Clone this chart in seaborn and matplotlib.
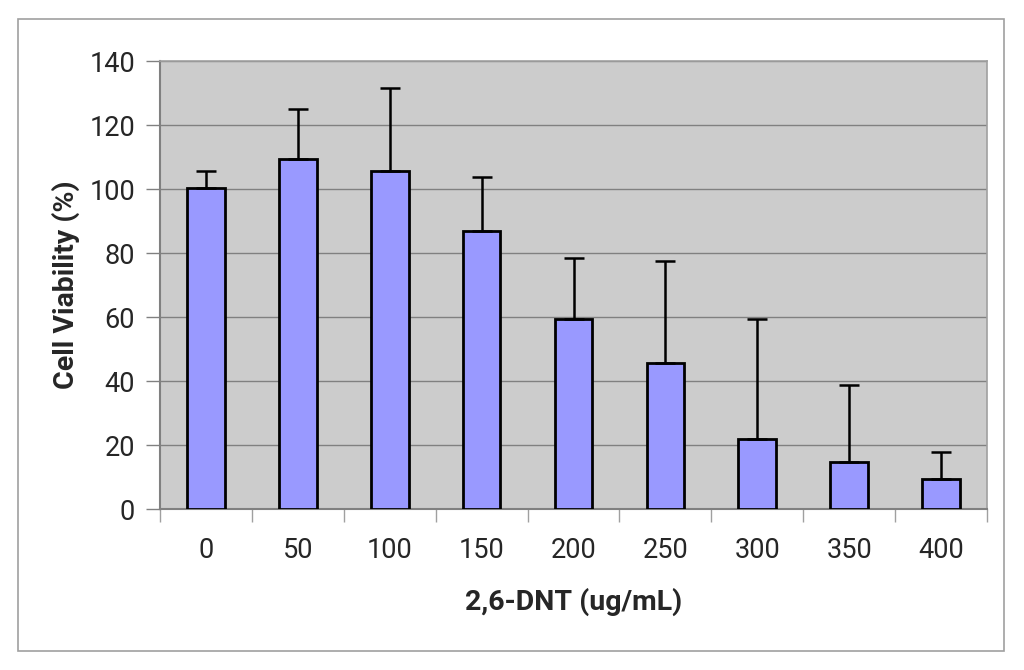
import matplotlib
matplotlib.use("Agg")
import matplotlib.pyplot as plt
import pandas as pd
import numpy as np
import seaborn as sns
from matplotlib.patches import Rectangle

# data
doses = ["0", "50", "100", "150", "200", "250", "300", "350", "400"]
viability = [100.3, 109.4, 105.6, 87.0, 59.4, 45.5, 21.9, 14.8, 9.4]
sd_upper = [5.4, 15.6, 26.0, 16.8, 19.1, 31.9, 37.5, 24.1, 8.4]

df = pd.DataFrame({"dose": doses, "viability": viability, "sd": sd_upper})

sns.set_theme(style="white")
plt.rcParams["font.family"] = ["Roboto", "DejaVu Sans"]

fig = plt.figure(figsize=(10.24, 6.7), dpi=100)
ax = fig.add_axes([160/1024, 161/670, 827/1024, 448/670])
ax.set_facecolor("#cccccc")

# outer chart border
fig.patches.append(Rectangle((18/1024, 19/670), 986/1024, 632/670,
                             transform=fig.transFigure, fill=False,
                             edgecolor="#a0a0a0", linewidth=1.2))

sns.barplot(data=df, x="dose", y="viability", color="#9999ff", width=0.41,
            saturation=1, edgecolor="black", linewidth=2, errorbar=None,
            ax=ax, zorder=3)
ax.errorbar(np.arange(len(doses)), df["viability"],
            yerr=[np.zeros(len(doses)), df["sd"]], fmt="none",
            ecolor="black", elinewidth=1.8, capsize=7, capthick=1.8, zorder=4)

ax.set_ylim(0, 140)
ax.set_xlim(-0.5, len(doses) - 0.5)
ax.set_yticks(range(0, 141, 20))
ax.yaxis.grid(True, color="#808080", linewidth=1.0)
ax.set_axisbelow(True)

# ticks: y outward, x ticks at category boundaries
ax.tick_params(axis="y", which="major", direction="out", length=10, width=1,
               color="#808080", labelsize=19.5, pad=8, left=True)
ax.tick_params(axis="x", which="major", length=0, labelsize=19.5, pad=20)
ax.set_xticks(np.arange(-0.5, len(doses)), minor=True)
ax.tick_params(axis="x", which="minor", direction="out", length=9, width=1,
               color="#a0a0a0", bottom=True)

for side in ["left", "bottom"]:
    ax.spines[side].set_color("#808080")
    ax.spines[side].set_linewidth(1.5)
for side in ["top", "right"]:
    ax.spines[side].set_color("#a0a0a0")
    ax.spines[side].set_linewidth(1.2)

ax.set_xlabel("2,6-DNT (ug/mL)", fontsize=20.5, fontweight="bold", labelpad=17)
ax.set_ylabel("Cell Viability (%)", fontsize=20.5, fontweight="bold", labelpad=7)

fig.savefig("out.png", dpi=100, facecolor="white")
